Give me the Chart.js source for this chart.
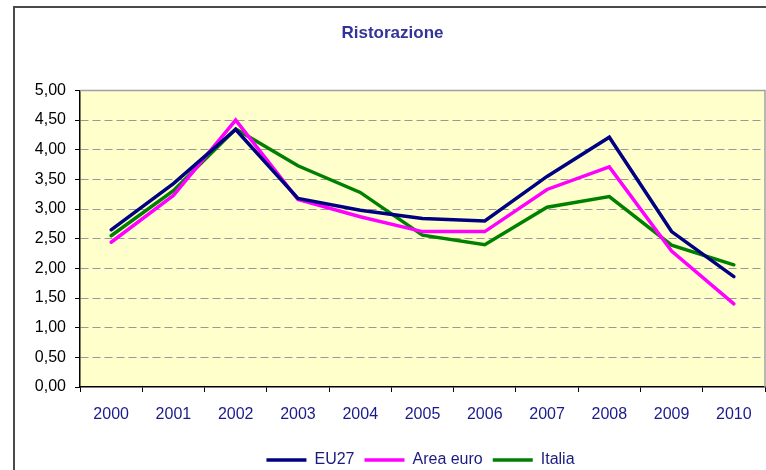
<!DOCTYPE html>
<html>
<head>
<meta charset="utf-8">
<script src="https://cdn.jsdelivr.net/npm/chart.js@4/dist/chart.umd.min.js"></script>
<style>
  html, body { margin: 0; padding: 0; background: #fff; }
  #wrap { width: 766px; height: 470px; position: relative; }
</style>
</head>
<body>
<div id="wrap"><canvas id="c" width="766" height="470"></canvas></div>
<script>
const categories = ['2000','2001','2002','2003','2004','2005','2006','2007','2008','2009','2010'];
const eu27      = [2.65, 3.43, 4.34, 3.18, 2.98, 2.84, 2.80, 3.55, 4.21, 2.62, 1.86];
const areaEuro  = [2.44, 3.23, 4.50, 3.16, 2.87, 2.62, 2.62, 3.33, 3.71, 2.29, 1.40];
const italia    = [2.55, 3.31, 4.35, 3.73, 3.28, 2.56, 2.40, 3.03, 3.21, 2.39, 2.06];
const seriesNames = ['EU27', 'Area euro', 'Italia'];
const yTicks = [0, 0.5, 1, 1.5, 2, 2.5, 3, 3.5, 4, 4.5, 5];

const FONT = 'Liberation Sans, Arial, sans-serif';

const framePlugin = {
  id: 'frame',
  afterLayout(chart) {
    const lg = chart.legend;
    if (lg) { lg.left += 28; lg.right += 28; }
  },
  beforeDraw(chart) {
    const ctx = chart.ctx, a = chart.chartArea;
    ctx.save();
    ctx.fillStyle = '#ffffff';
    ctx.fillRect(0, 0, chart.width, chart.height);
    ctx.strokeStyle = '#4a4a4a';
    ctx.lineWidth = 2;
    ctx.beginPath();
    ctx.moveTo(14, 480);
    ctx.lineTo(14, 7);
    ctx.lineTo(780, 7);
    ctx.stroke();
    ctx.fillStyle = '#FFFFCC';
    ctx.fillRect(a.left, a.top, a.right - a.left, a.bottom - a.top);
    ctx.restore();
  },
  beforeDatasetsDraw(chart) {
    const ctx = chart.ctx, a = chart.chartArea;
    ctx.save();
    ctx.strokeStyle = '#A0A0A0';
    ctx.lineWidth = 1.5;
    ctx.beginPath();
    ctx.moveTo(a.left, a.top);
    ctx.lineTo(a.right, a.top);
    ctx.lineTo(a.right, a.bottom);
    ctx.stroke();
    ctx.restore();
  }
};

new Chart(document.getElementById('c'), {
  type: 'line',
  data: {
    labels: categories,
    datasets: [
      { label: seriesNames[0], data: eu27, borderColor: '#000080', backgroundColor: '#000080', borderWidth: 3.5, pointRadius: 0, tension: 0 },
      { label: seriesNames[1], data: areaEuro, borderColor: '#FF00FF', backgroundColor: '#FF00FF', borderWidth: 3.5, pointRadius: 0, tension: 0 },
      { label: seriesNames[2], data: italia, borderColor: '#008000', backgroundColor: '#008000', borderWidth: 3.5, pointRadius: 0, tension: 0 }
    ]
  },
  options: {
    responsive: false,
    animation: false,
    layout: { padding: { left: 20, right: 1, top: 0, bottom: -8 } },
    plugins: {
      title: {
        display: true,
        text: 'Ristorazione',
        color: '#333399',
        font: { family: FONT, size: 17, weight: 'bold' },
        padding: { top: 23, bottom: 47 }
      },
      legend: {
        position: 'bottom',
        labels: {
          usePointStyle: true,
          pointStyle: 'line',
          pointStyleWidth: 40,
          color: '#1a1a80',
          font: { family: FONT, size: 16 },
          padding: 10
        }
      },
      tooltip: { enabled: false }
    },
    scales: {
      x: {
        offset: true,
        grid: { display: true, drawOnChartArea: false, offset: true, tickLength: 5, tickColor: '#000000', tickWidth: 1 },
        border: { display: true, color: '#000000', width: 1.5 },
        ticks: {
          color: '#1a1a8c',
          font: { family: FONT, size: 16 },
          padding: 13,
          maxRotation: 0
        },
        afterFit(s) { s.height = 55; }
      },
      y: {
        min: 0, max: 5,
        afterBuildTicks(s) { s.ticks = yTicks.map(v => ({ value: v })); },
        grid: {
          color: (c) => (c.tick && c.tick.value > 0 && c.tick.value < 5) ? '#999999' : 'rgba(0,0,0,0)',
          lineWidth: 1,
          tickLength: 5,
          tickColor: '#000000',
          tickBorderDash: [],
          drawTicks: true
        },
        border: { display: true, color: '#000000', width: 1.5, dash: [8, 4] },
        ticks: {
          color: '#000000',
          font: { family: FONT, size: 16 },
          padding: 9,
          callback: (v) => Number(v).toFixed(2).replace('.', ',')
        },
        afterFit(s) { s.width = 60; }
      }
    },
    elements: { line: { borderCapStyle: 'round', borderJoinStyle: 'miter' } }
  },
  plugins: [framePlugin]
});
</script>
</body>
</html>
